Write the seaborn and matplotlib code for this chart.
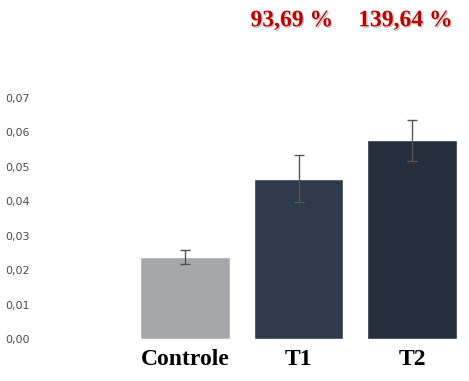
import matplotlib
matplotlib.use("Agg")
import matplotlib.pyplot as plt
import matplotlib.patheffects as pe
import seaborn as sns
import pandas as pd

# values
groups = ["Controle", "T1", "T2"]
means = [0.0239, 0.0466, 0.0577]
errors = [0.0020, 0.0069, 0.0060]
bar_colors = ["#A6A7AB", "#2F3A4C", "#252E3C"]
gains = ["", "93,69 %", "139,64 %"]
yticks = [0.0, 0.01, 0.02, 0.03, 0.04, 0.05, 0.06, 0.07]

df = pd.DataFrame({"grupo": groups, "valor": means})

sns.set_style("white")
fig = plt.figure(figsize=(4.69, 3.81), dpi=100)
ax = fig.add_axes([0.273, 0.110, 0.727, 0.633])

sns.barplot(data=df, x="grupo", y="valor", hue="grupo", palette=bar_colors,
            width=0.79, errorbar=None, legend=False, ax=ax, saturation=1)
ax.errorbar(range(len(groups)), means, yerr=errors, fmt="none",
            ecolor="#555555", elinewidth=1, capsize=3.5, capthick=1)

ax.set_xlim(-0.5, 2.5)
ax.set_ylim(0, 0.07)
ax.set_yticks(yticks)
ax.set_yticklabels([f"{v:.2f}".replace(".", ",") for v in yticks],
                   fontsize=8, color="#4D4D4D", family="DejaVu Sans")
ax.tick_params(axis="y", length=0, pad=71)
ax.tick_params(axis="x", length=0, pad=7)
ax.set_xticks(range(len(groups)))
ax.set_xticklabels(groups, fontsize=17, fontweight="bold",
                   family="Liberation Serif", color="black")
ax.set_xlabel("")
ax.set_ylabel("")
sns.despine(ax=ax, left=True, bottom=True)

for i, txt in enumerate(gains):
    if txt:
        ax.text(i - 0.06, 1.32, txt, transform=ax.get_xaxis_transform(),
                ha="center", va="center", fontsize=17, fontweight="bold",
                family="Liberation Serif", color="#C00000",
                path_effects=[pe.withSimplePatchShadow(offset=(1, -1),
                                                       shadow_rgbFace="#888888",
                                                       alpha=0.5)])

plt.savefig("out.png", dpi=100)
